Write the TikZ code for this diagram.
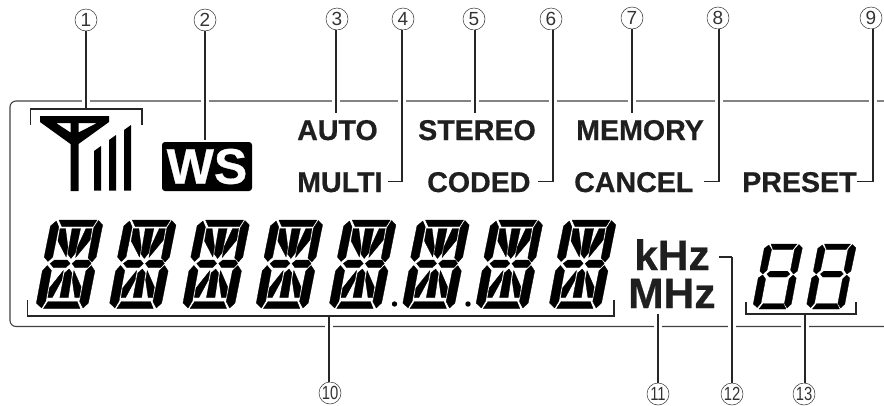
\documentclass[tikz,border=0pt]{standalone}
\usepackage{fontspec}
\setmainfont[BoldFeatures={FakeBold=0.6}]{Liberation Sans}
\tikzset{
  x=1pt,y=-1pt,
  frameline/.style={draw=black!75,line width=1.1pt,rounded corners=6pt},
  leader/.style={draw=black!85,line width=1.1pt,preaction={draw=white,line width=8pt}},
  plain/.style={draw=black!85,line width=1.1pt},
  callout/.style={circle,draw=black!80,line width=0.5pt,minimum size=22pt,inner sep=0pt,font=\fontsize{19}{19}\selectfont,text=black!80},
  lcdword/.style={anchor=base west,inner sep=0pt,text=black!88,font=\fontsize{28.6}{28}\selectfont\bfseries},
  unitword/.style={anchor=base west,inner sep=0pt,text=black!88,font=\fontsize{42.5}{42}\selectfont\bfseries},
  seg/.style={fill=black,draw=black,line width=0.3pt,line join=round},
}
\newcommand{\sixteenseg}[1]{%
\begin{scope}[shift={(#1,220)},xslant=0.17]
\fill[seg] (7,0)--(45,0)--(42,6.5)--(11,6.5)--cycle;
\fill[seg] (10,81.5)--(39,81.5)--(43,88.5)--(6.5,88.5)--cycle;
\fill[seg] (4.5,1)--(8,7)--(7,37)--(3,41.5)--(-1.5,37)--(-0.5,6)--cycle;
\fill[seg] (46.5,0.5)--(51.5,5)--(50.5,37)--(47,42)--(42.5,38)--(43,8)--cycle;
\fill[seg] (3,45.5)--(8,50.5)--(7.5,81)--(4.5,88)--(-1.5,83)--(-1,51)--cycle;
\fill[seg] (47,45.5)--(51.5,51)--(50.5,83)--(46,88)--(41.5,81.5)--(42.5,51)--cycle;
\fill[seg] (5.5,43.5)--(9.5,40)--(22,40)--(25.5,43.5)--(22,47.5)--(9.5,47.5)--cycle;
\fill[seg] (27.5,43.5)--(31,40)--(43.5,40)--(46.5,43.5)--(43.5,47.5)--(31,47.5)--cycle;
\fill[seg] (21.5,8.5)--(30,8.5)--(29,33)--(25.5,38.5)--(21.5,34)--cycle;
\fill[seg] (25.5,49)--(29,53)--(29.5,77.5)--(21,77.5)--(21.5,53)--cycle;
\fill[seg] (9.5,8.5)--(15,8.5)--(20.5,27)--(20.5,37)--(9.5,21)--cycle;
\fill[seg] (41.5,8.5)--(41.5,20)--(30,37.5)--(30,27)--(35.5,8.5)--cycle;
\fill[seg] (20,50.5)--(20,60)--(13.5,77.5)--(9,77.5)--(9,68)--cycle;
\fill[seg] (30.5,50.5)--(40.5,67)--(40.5,77.5)--(36,77.5)--(30.5,60)--cycle;
\end{scope}}
\newcommand{\sevenseg}[1]{%
\begin{scope}[shift={(#1,244)},xslant=0.17]
\fill[seg] (6,0)--(32,0)--(28.5,5.5)--(9,5.5)--cycle;
\fill[seg] (8.5,59.5)--(28.5,59.5)--(32,65)--(5,65)--cycle;
\fill[seg] (7,30)--(10,27.2)--(27,27.2)--(30,30)--(27,33)--(10,33)--cycle;
\fill[seg] (4,1)--(7.5,5.5)--(6.5,26)--(3,30)--(-0.5,27)--(0,4.5)--cycle;
\fill[seg] (34,0.5)--(38,4)--(37,27)--(33.5,30)--(30,26)--(30.5,5.5)--cycle;
\fill[seg] (3,31)--(6.5,35)--(6,59)--(3,63.5)--(-1.5,60)--(-1,34)--cycle;
\fill[seg] (33.5,31)--(37,34)--(36.5,60)--(33,64)--(29.5,59.5)--(30,35)--cycle;
\end{scope}}
\begin{document}
\begin{tikzpicture}
\useasboundingbox (0,0) rectangle (884,405);
% frame
\draw[frameline] (884,101) -- (10,101) -- (10,326.5) -- (884,326.5);
% callouts
\node[callout] (c1) at (86,20) {1};
\node[callout] (c2) at (205,20) {2};
\node[callout] (c3) at (337,19) {3};
\node[callout] (c4) at (403,19) {4};
\node[callout] (c5) at (474,19) {5};
\node[callout] (c6) at (551,19) {6};
\node[callout] (c7) at (632,18) {7};
\node[callout] (c8) at (718,18) {8};
\node[callout] (c9) at (871,18) {9};
\node[callout] (c10) at (330,393) {\scalebox{0.78}[1]{10}};
\node[callout] (c11) at (658,394) {\scalebox{0.78}[1]{11}};
\node[callout] (c12) at (732,394) {\scalebox{0.78}[1]{12}};
\node[callout] (c13) at (804,394) {\scalebox{0.78}[1]{13}};
% free ends
\coordinate (e1) at (86,109);
\coordinate (e2) at (205,140);
\coordinate (e3) at (336,113);
\coordinate (e4) at (402,181.5);
\coordinate (f4) at (388,181.5);
\coordinate (e5) at (475,113);
\coordinate (e6) at (553,181.5);
\coordinate (f6) at (538,181.5);
\coordinate (e7) at (632,113);
\coordinate (e8) at (719,181.5);
\coordinate (f8) at (704,181.5);
\coordinate (e9) at (873,181.5);
\coordinate (f9) at (857,181.5);
\coordinate (e10) at (329,316);
\coordinate (e11) at (658,314);
\coordinate (e12) at (732,257);
\coordinate (f12) at (719,257);
\coordinate (e13) at (805,314);
% leaders
\draw[leader] (c1.south -| e1) -- (e1);
\draw[leader] (c2.south -| e2) -- (e2);
\draw[leader] (c3.south -| e3) -- (e3);
\draw[leader] (c4.south -| e4) -- (e4);
\draw[plain] (e4) -- (f4);
\draw[leader] (c5.south -| e5) -- (e5);
\draw[leader] (c6.south -| e6) -- (e6);
\draw[plain] (e6) -- (f6);
\draw[leader] (c7.south -| e7) -- (e7);
\draw[leader] (c8.south -| e8) -- (e8);
\draw[plain] (e8) -- (f8);
\draw[leader] (c9.south -| e9) -- (e9);
\draw[plain] (e9) -- (f9);
\draw[leader] (c10.north -| e10) -- (e10);
\draw[leader] (c11.north -| e11) -- (e11);
\draw[leader] (c12.north -| e12) -- (e12);
\draw[plain] (e12) -- (f12);
\draw[leader] (c13.north -| e13) -- (e13);
% brackets
\draw[plain] (30.5,125) -- (30.5,109) -- (142,109) -- (142,125);
\draw[plain] (27.5,300) -- (27.5,316) -- (614,316) -- (614,300);
\draw[plain] (746,302) -- (746,314) -- (856,314) -- (856,302);
% antenna
\fill[even odd rule] (40,116)--(109,116)--(109,122)--(78.5,144)--(78.5,191)--(70.5,191)--(70.5,144)--(40,122)--cycle
  (56,123)--(70.5,123)--(70.5,132.5)--cycle
  (78.5,123)--(97,123)--(78.5,132.5)--cycle;
\fill (94,151)--(101,146)--(101,190.5)--(94,190.5)--cycle;
\fill (109,140)--(116,135)--(116,190.5)--(109,190.5)--cycle;
\fill (124,130)--(131,125)--(131,190.5)--(124,190.5)--cycle;
% WS
\node[fill=black,rounded corners=3pt,minimum width=90pt,minimum height=49pt,inner sep=0pt,text=white,
  font=\fontsize{50}{50}\selectfont\bfseries] (ws) at (207,166.5) {WS};
% words
\node[lcdword] (auto) at (297,140) {AUTO};
\node[lcdword] (multi) at (297,192) {MULTI};
\node[lcdword] (stereo) at (418,140) {STEREO};
\node[lcdword] (coded) at (427,192) {CODED};
\node[lcdword] (memory) at (576,140) {MEMORY};
\node[lcdword] (cancel) at (574,192) {CANCEL};
\node[lcdword] (preset) at (742,192) {PRESET};
\node[unitword] (khz) at (634,270) {kHz};
\node[unitword] (mhz) at (628,308) {MHz};
% digits
\sixteenseg{52}
\sixteenseg{125.3}
\sixteenseg{198.6}
\sixteenseg{271.9}
\sixteenseg{345.2}
\sixteenseg{418.5}
\sixteenseg{491.8}
\sixteenseg{565.1}
\fill (394.5,304) circle (2.7);
\fill (468,304) circle (2.7);
\sevenseg{765}
\sevenseg{818.5}
\end{tikzpicture}
\end{document}
